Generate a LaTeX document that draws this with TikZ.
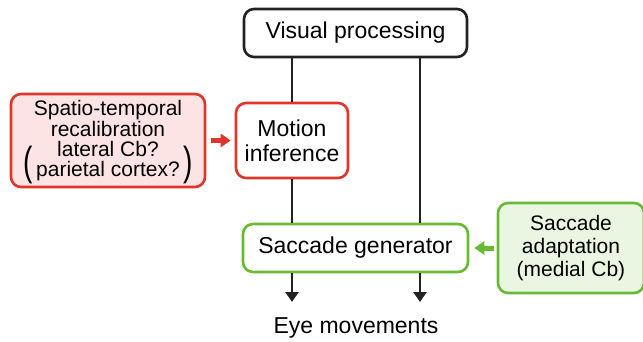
\documentclass[tikz,border=0pt]{standalone}
\usepackage{fontspec}
\usepackage{graphicx}
\setmainfont{Liberation Sans}
\usetikzlibrary{arrows.meta}

\definecolor{boxred}{HTML}{E0352A}
\definecolor{fillred}{HTML}{FDE4E4}
\definecolor{boxgreen}{HTML}{66BB33}
\definecolor{fillgreen}{HTML}{EAF6E1}
\definecolor{linegray}{HTML}{222222}

\tikzset{
  stage/.style={rounded corners=10pt, line width=2.6pt, fill=white, inner sep=0pt,
    align=center, font=\fontsize{23}{24}\selectfont},
  blackbox/.style={stage, draw=linegray},
  redbox/.style={stage, draw=boxred},
  greenbox/.style={stage, draw=boxgreen},
  paren/.style={inner sep=0pt, font=\fontsize{28}{28}\selectfont},
  link/.style={draw=linegray, line width=2.4pt},
  downarrow/.style={link, -{Triangle[length=10pt,width=13pt]}},
}

\begin{document}
\begin{tikzpicture}[x=1pt,y=-1pt]
\useasboundingbox (0,0) rectangle (643,341);

% boxes
\node[blackbox, minimum width=223pt, minimum height=48pt] (vis) at (355.5,33) {Visual processing};
\node[redbox, minimum width=112pt, minimum height=75pt] (mot) at (292,140.5) {Motion\\[1pt]inference};
\node[redbox, fill=fillred, minimum width=194pt, minimum height=93pt,
  font=\fontsize{21}{21}\selectfont] (spt) at (108,140.5)
  {Spatio-temporal\\recalibration\\[-1pt]lateral Cb?\\[-1pt]parietal cortex?};
\node[paren] (lpar) at (28,165) {\scalebox{1}[1.45]{(}};
\node[paren] (rpar) at (188,165) {\scalebox{1}[1.45]{)}};
\node[greenbox, minimum width=225pt, minimum height=48pt] (sac) at (355.5,248) {Saccade generator};
\node[greenbox, fill=fillgreen, minimum width=146pt, minimum height=90pt,
  font=\fontsize{21}{23}\selectfont] (ada) at (571,248) {Saccade\\adaptation\\(medial Cb)};
\node[anchor=base, font=\fontsize{23}{24}\selectfont] (eye) at (356,333) {Eye movements};

\coordinate (rt) at (420,0);
\coordinate (low) at (0,302);

% pathways
\draw[link] (vis.south -| mot) -- (mot.north);
\draw[link] (mot.south) -- (sac.north -| mot);
\draw[link] (vis.south -| rt) -- (sac.north -| rt);
\draw[downarrow] (sac.south -| mot) -- (low -| mot);
\draw[downarrow] (sac.south -| rt) -- (low -| rt);

% inputs
\draw[boxred, line width=5pt, -{Triangle[length=10pt,width=13pt]}, shorten <=5pt, shorten >=4pt]
  (spt.east) -- (mot.west);
\draw[boxgreen, line width=5pt, -{Triangle[length=10pt,width=13pt]}, shorten <=3pt, shorten >=5pt]
  (ada.west) -- (sac.east);
\end{tikzpicture}
\end{document}
